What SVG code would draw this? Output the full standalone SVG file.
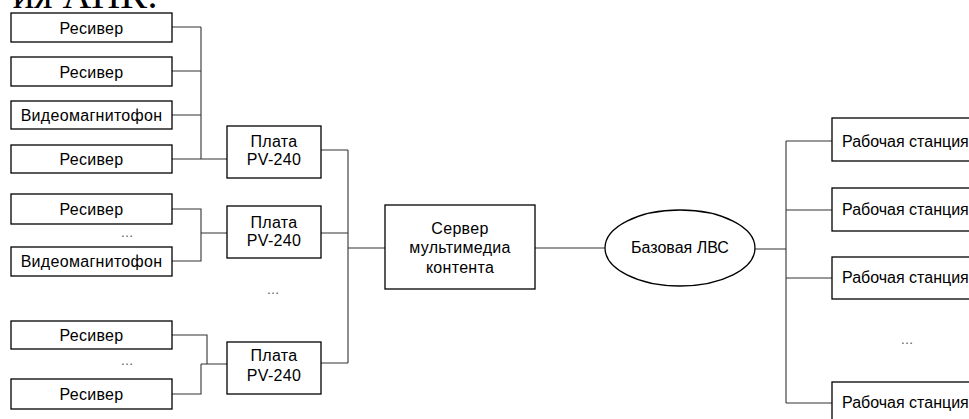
<svg xmlns="http://www.w3.org/2000/svg" width="969" height="419" viewBox="0 0 969 419">
<style>
.box{fill:#fff;stroke:#000;stroke-width:1.3}
.lbl{font-family:"Liberation Sans",Arial,sans-serif;font-size:16px;fill:#000;text-anchor:middle;letter-spacing:0.3px}
.ws{font-family:"Liberation Sans",Arial,sans-serif;font-size:16px;fill:#000}
.dots{font-family:"Liberation Sans",Arial,sans-serif;font-size:13px;fill:#555;text-anchor:middle}
.con{fill:none;stroke:#333;stroke-width:1.1}
</style>
<rect width="969" height="419" fill="#fff"/>
<text x="158" y="8" font-family="'Liberation Serif','Times New Roman',serif" font-size="40" text-anchor="end" fill="#000">ия АПК:</text>

<g id="connectors">
<path class="con" d="M172 27H201M172 71H201M172 115H201M201 27V159M172 159H227"/>
<path class="con" d="M172 209H201V261H172M201 233H227"/>
<path class="con" d="M172 335H207V364M172 394H201V364M201 364H227"/>
<path class="con" d="M321 150H348M321 233H348M321 363H348M348 150V363M348 248H385"/>
<path class="con" d="M535 248H605"/>
<path class="con" d="M755 249H786M786 141V403M786 141H832M786 210H832M786 278H832M786 403H832"/>
</g>

<g id="rec1"><rect class="box" x="11" y="13" width="161" height="29"/><text class="lbl" x="91.5" y="34">Ресивер</text></g>
<g id="rec2"><rect class="box" x="11" y="57" width="161" height="29"/><text class="lbl" x="91.5" y="78">Ресивер</text></g>
<g id="vcr1"><rect class="box" x="11" y="101" width="161" height="28"/><text class="lbl" x="91.5" y="121">Видеомагнитофон</text></g>
<g id="rec3"><rect class="box" x="11" y="145" width="161" height="28"/><text class="lbl" x="91.5" y="165">Ресивер</text></g>

<g id="rec4"><rect class="box" x="11" y="194" width="161" height="30"/><text class="lbl" x="91.5" y="215">Ресивер</text></g>
<text class="dots" x="127" y="237">…</text>
<g id="vcr2"><rect class="box" x="11" y="247" width="161" height="29"/><text class="lbl" x="91.5" y="267">Видеомагнитофон</text></g>

<g id="rec5"><rect class="box" x="11" y="321" width="161" height="28"/><text class="lbl" x="91.5" y="341">Ресивер</text></g>
<text class="dots" x="127" y="365">…</text>
<g id="rec6"><rect class="box" x="11" y="379" width="161" height="30"/><text class="lbl" x="91.5" y="400">Ресивер</text></g>

<g id="pv1"><rect class="box" x="227" y="126" width="94" height="52"/><text class="lbl" x="274" y="147">Плата</text><text class="lbl" x="274" y="165">PV-240</text></g>
<g id="pv2"><rect class="box" x="227" y="206" width="94" height="52"/><text class="lbl" x="274" y="228">Плата</text><text class="lbl" x="274" y="246">PV-240</text></g>
<text class="dots" x="273" y="294">…</text>
<g id="pv3"><rect class="box" x="227" y="342" width="94" height="52"/><text class="lbl" x="274" y="361">Плата</text><text class="lbl" x="274" y="381">PV-240</text></g>

<g id="server"><rect class="box" x="385" y="205" width="150" height="84"/>
<text class="lbl" x="460" y="234">Сервер</text>
<text class="lbl" x="460" y="253">мультимедиа</text>
<text class="lbl" x="460" y="273">контента</text></g>

<g id="lan"><ellipse class="box" cx="680" cy="248" rx="75" ry="38"/><text class="lbl" x="680" y="253" style="letter-spacing:0">Базовая ЛВС</text></g>

<g id="ws1"><rect class="box" x="832" y="118" width="200" height="43"/><text class="ws" x="842" y="147">Рабочая станция</text></g>
<g id="ws2"><rect class="box" x="832" y="188" width="200" height="43"/><text class="ws" x="842" y="215">Рабочая станция</text></g>
<g id="ws3"><rect class="box" x="832" y="257" width="200" height="42"/><text class="ws" x="842" y="283">Рабочая станция</text></g>
<text class="dots" x="907" y="344">…</text>
<g id="ws4"><rect class="box" x="832" y="382" width="200" height="43"/><text class="ws" x="842" y="408">Рабочая станция</text></g>
</svg>
